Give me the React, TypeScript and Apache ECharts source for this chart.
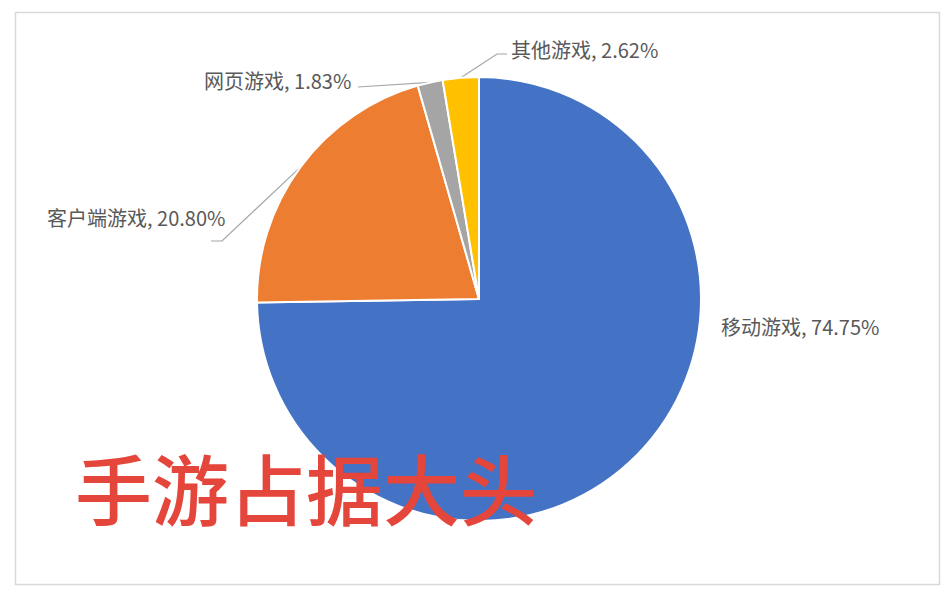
import { useEffect, useRef } from "react";
import * as echarts from "echarts";

const CATEGORIES = ["移动游戏", "客户端游戏", "网页游戏", "其他游戏"];
const SHARES = [74.75, 20.8, 1.83, 2.62];
const COLORS = ["#4472c4", "#ed7d31", "#a5a5a5", "#ffc000"];
const CAPTION = "手游占据大头";

// where each label sits (left edge, vertical middle) and where its leader ends
const LABEL_SPOTS: { x: number; y: number; lineTo: number[][] | null }[] = [
  { x: 721, y: 326, lineTo: null },
  { x: 47, y: 217, lineTo: [[222, 241], [211, 241]] },
  { x: 204, y: 80, lineTo: [[358, 87]] },
  { x: 511, y: 49, lineTo: [[497, 54], [507, 54]] },
];

export default function App() {
  const chartRef = useRef<HTMLDivElement>(null);

  useEffect(() => {
    if (!chartRef.current) return;
    const chart = echarts.init(chartRef.current, null, { renderer: "svg" });

    chart.setOption({
      animation: false,
      graphic: [
        {
          type: "rect",
          z: 0,
          shape: { x: 15.5, y: 12.5, width: 924, height: 572 },
          style: { fill: "#fff", stroke: "#d9d9d9", lineWidth: 1.5 },
        },
        {
          type: "text",
          z: 100,
          left: 75,
          top: 448,
          style: {
            text: CAPTION,
            fill: "#e5463b",
            fontSize: 77,
            fontWeight: 500,
            fontFamily: "Noto Sans CJK SC",
          },
        },
      ],
      series: [
        {
          type: "pie",
          center: [479, 299],
          radius: [0, 222],
          startAngle: 90,
          clockwise: true,
          z: 2,
          itemStyle: { borderColor: "#fff", borderWidth: 2 },
          label: {
            show: true,
            position: "outside",
            color: "#595959",
            fontSize: 20,
            fontFamily: "Noto Sans CJK SC",
            formatter: (p: any) => `${p.name}, ${p.value.toFixed(2)}%`,
          },
          labelLine: {
            show: true,
            lineStyle: { color: "#a6a6a6", width: 1.2 },
          },
          labelLayout: (params: any) => {
            const spot = LABEL_SPOTS[params.dataIndex];
            const out: any = {
              x: spot.x,
              y: spot.y,
              align: "left",
              verticalAlign: "middle",
            };
            if (spot.lineTo && params.labelLinePoints) {
              out.labelLinePoints = [params.labelLinePoints[0], ...spot.lineTo];
            }
            return out;
          },
          data: CATEGORIES.map((name, i) => ({
            name,
            value: SHARES[i],
            itemStyle: { color: COLORS[i] },
            labelLine: { show: i !== 0 },
          })),
        },
      ],
    });

    return () => chart.dispose();
  }, []);

  return (
    <div
      ref={chartRef}
      style={{ position: "fixed", left: 0, top: 0, width: "952px", height: "596px", background: "#fff" }}
    />
  );
}
